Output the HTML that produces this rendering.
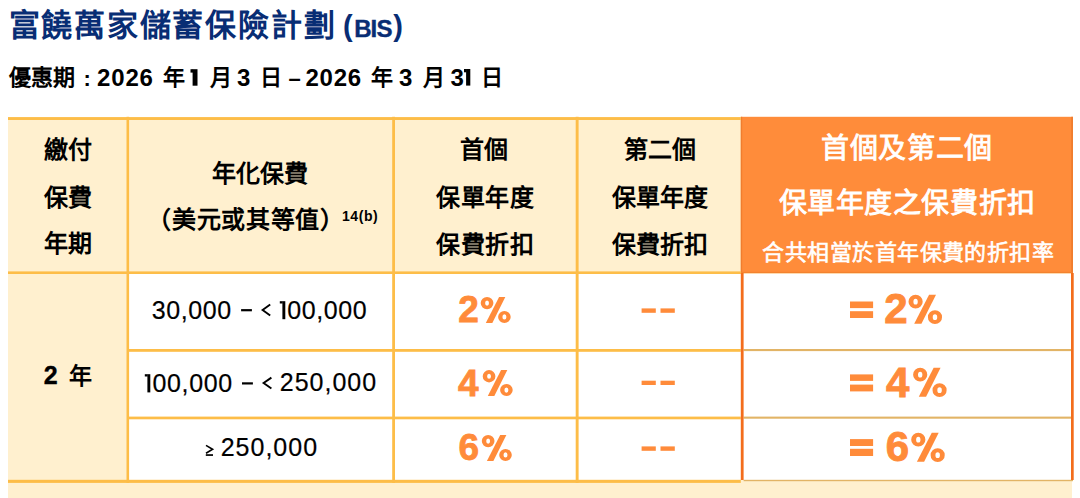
<!DOCTYPE html>
<html lang="zh-HK">
<head>
<meta charset="utf-8">
<style>
html,body{margin:0;padding:0;background:#fff;}
body{width:1080px;height:498px;position:relative;overflow:hidden;font-family:"Liberation Sans",sans-serif;}
.a{position:absolute;}
.tk{position:absolute;white-space:nowrap;line-height:1;}
.y{background:#fdbd48;}
</style>
</head>
<body>
<!-- table fills -->
<div class="a" style="left:8px;top:117px;width:1064px;height:381px;background:#fff0cf;"></div>
<div class="a" style="left:129px;top:274px;width:942px;height:206px;background:#fff;"></div>
<svg class="a" style="left:0;top:0;" width="1080" height="498" viewBox="0 0 1080 498">
<rect x="740.8" y="116.8" width="332.2" height="156.3" fill="#ff8c3a"/>
<rect x="740.8" y="116.8" width="1.4" height="156.3" fill="#f07d2e"/>
<rect x="1071.2" y="116.8" width="1.8" height="156.3" fill="#f07d2e"/>
<rect x="740.8" y="271.8" width="332.2" height="1.3" fill="#f3822f"/>
<g fill="#fdbd48">
<rect x="8" y="117.1" width="732.8" height="2.9"/>
<rect x="8" y="271.4" width="732.8" height="2.6"/>
<rect x="128" y="349" width="612.8" height="2.8"/>
<rect x="128" y="416.6" width="612.8" height="2.7"/>
<rect x="8" y="479.8" width="732.8" height="3.1"/>
<rect x="126.5" y="116.8" width="2.6" height="366.1"/>
<rect x="392.2" y="116.8" width="2.8" height="366.1"/>
<rect x="575.7" y="116.8" width="2.9" height="366.1"/>
</g>
<g fill="#e2b466">
<rect x="743.6" y="349" width="327.4" height="2.1"/>
<rect x="743.6" y="416.6" width="327.4" height="2.1"/>
<rect x="743.6" y="479.8" width="329.4" height="1.4"/>
</g>
<g fill="#f36d1c">
<rect x="740.8" y="273" width="2.8" height="207"/>
<rect x="1071" y="273" width="2.7" height="207"/>
</g>
</svg>
<svg class="a" style="left:0;top:0;" width="1080" height="498" viewBox="0 0 1080 498">
<g fill="none" stroke="#000000" stroke-width="1.9" stroke-linejoin="miter" stroke-linecap="butt">
<polyline points="270.2,304.6 262.6,310.1 270.2,315.6"/>
<polyline points="271.4,377.6 263.6,383.05 271.4,388.5"/>
<polyline stroke-width="1.6" points="206,445.4 212.6,449.3 206,453.2"/>
</g>
<rect x="205.8" y="454.2" width="7.2" height="1.7" fill="#000000"/>
<g fill="#ff8b3a">
<rect x="641.6" y="308.4" width="14.2" height="4.4"/><rect x="660.5" y="308.4" width="14.3" height="4.4"/>
<rect x="641.6" y="380.7" width="14.2" height="4.3"/><rect x="660.5" y="380.7" width="14.3" height="4.3"/>
<rect x="641.6" y="446.4" width="14.2" height="4.4"/><rect x="660.5" y="446.4" width="14.3" height="4.4"/>
<rect x="850" y="301.5" width="23.1" height="6.6"/><rect x="850" y="311.2" width="23.1" height="6.8"/>
<rect x="850" y="374.4" width="23.1" height="6.5"/><rect x="850" y="384.6" width="23.1" height="6.8"/>
<rect x="850" y="439.1" width="23.1" height="6.9"/><rect x="850" y="448.8" width="23.1" height="7.2"/>
</g>
<g fill="#000">
<rect x="241.1" y="309.1" width="10.8" height="2.2"/>
<rect x="242" y="382.3" width="10.9" height="2.2"/>
<rect x="192.6" y="69.2" width="4.9" height="16.5"/><rect x="190.5" y="69.2" width="2.6" height="3.4"/>
<rect x="466.1" y="69" width="4.2" height="16.6"/><rect x="464" y="69" width="2.6" height="3.3"/>
<rect x="282.4" y="301.2" width="2.9" height="18"/><rect x="279.8" y="301.2" width="2.9" height="2.3"/>
<rect x="147.4" y="374.2" width="2.9" height="18.2"/><rect x="144.8" y="374.2" width="2.9" height="2.3"/>
</g>
</svg>
<svg class="a" style="left:0;top:0;" width="1080" height="498" viewBox="0 0 1080 498"><g fill="#ff8b3a"><path fill-rule="evenodd" d="M480.70,303.05a6.35,6.15 0 1,0 12.70,0a6.35,6.15 0 1,0 -12.70,0ZM485.10,303.05a1.95,2.60 0 1,0 3.90,0a1.95,2.60 0 1,0 -3.90,0ZM498.10,316.90a6.30,6.00 0 1,0 12.60,0a6.30,6.00 0 1,0 -12.60,0ZM502.40,316.90a2.00,2.55 0 1,0 4.00,0a2.00,2.55 0 1,0 -4.00,0Z"/><polygon points="499.10,296.90 505.30,296.90 492.30,322.90 485.80,322.90"/><path fill-rule="evenodd" d="M482.70,376.25a6.35,6.15 0 1,0 12.70,0a6.35,6.15 0 1,0 -12.70,0ZM487.10,376.25a1.95,2.60 0 1,0 3.90,0a1.95,2.60 0 1,0 -3.90,0ZM500.10,390.10a6.30,6.00 0 1,0 12.60,0a6.30,6.00 0 1,0 -12.60,0ZM504.40,390.10a2.00,2.55 0 1,0 4.00,0a2.00,2.55 0 1,0 -4.00,0Z"/><polygon points="501.10,370.10 507.30,370.10 494.30,396.10 487.80,396.10"/><path fill-rule="evenodd" d="M481.80,441.05a6.35,6.15 0 1,0 12.70,0a6.35,6.15 0 1,0 -12.70,0ZM486.20,441.05a1.95,2.60 0 1,0 3.90,0a1.95,2.60 0 1,0 -3.90,0ZM499.20,454.90a6.30,6.00 0 1,0 12.60,0a6.30,6.00 0 1,0 -12.60,0ZM503.50,454.90a2.00,2.55 0 1,0 4.00,0a2.00,2.55 0 1,0 -4.00,0Z"/><polygon points="500.20,434.90 506.40,434.90 493.40,460.90 486.90,460.90"/><path fill-rule="evenodd" d="M908.50,301.67a7.09,6.87 0 1,0 14.19,0a7.09,6.87 0 1,0 -14.19,0ZM913.41,301.67a2.18,2.90 0 1,0 4.36,0a2.18,2.90 0 1,0 -4.36,0ZM927.94,317.14a7.04,6.70 0 1,0 14.07,0a7.04,6.70 0 1,0 -14.07,0ZM932.74,317.14a2.23,2.85 0 1,0 4.47,0a2.23,2.85 0 1,0 -4.47,0Z"/><polygon points="929.05,294.80 935.98,294.80 921.46,323.84 914.20,323.84"/><path fill-rule="evenodd" d="M913.10,374.67a7.09,6.87 0 1,0 14.19,0a7.09,6.87 0 1,0 -14.19,0ZM918.01,374.67a2.18,2.90 0 1,0 4.36,0a2.18,2.90 0 1,0 -4.36,0ZM932.54,390.14a7.04,6.70 0 1,0 14.07,0a7.04,6.70 0 1,0 -14.07,0ZM937.34,390.14a2.23,2.85 0 1,0 4.47,0a2.23,2.85 0 1,0 -4.47,0Z"/><polygon points="933.65,367.80 940.58,367.80 926.06,396.84 918.80,396.84"/><path fill-rule="evenodd" d="M911.20,439.67a7.09,6.87 0 1,0 14.19,0a7.09,6.87 0 1,0 -14.19,0ZM916.11,439.67a2.18,2.90 0 1,0 4.36,0a2.18,2.90 0 1,0 -4.36,0ZM930.64,455.14a7.04,6.70 0 1,0 14.07,0a7.04,6.70 0 1,0 -14.07,0ZM935.44,455.14a2.23,2.85 0 1,0 4.47,0a2.23,2.85 0 1,0 -4.47,0Z"/><polygon points="931.75,432.80 938.68,432.80 924.16,461.84 916.90,461.84"/></g></svg>
<div class="tk" style="left:8.5px;top:10.2px;font-size:31px;font-weight:bold;letter-spacing:1.8px;color:#082d74;">富饒萬家儲蓄保險計劃</div>
<div class="tk" style="left:343.1px;top:12.2px;font-size:29px;font-weight:bold;color:#082d74;">(</div>
<div class="tk" style="left:354.2px;top:16.9px;font-size:24px;font-weight:bold;letter-spacing:-0.9px;-webkit-text-stroke:0.4px #082d74;color:#082d74;">BIS</div>
<div class="tk" style="left:393.3px;top:12.2px;font-size:29px;font-weight:bold;color:#082d74;">)</div>
<div class="tk" style="left:8.9px;top:67.1px;font-size:22px;font-weight:bold;color:#000000;">優惠期</div>
<div class="tk" style="left:83.6px;top:68.0px;font-size:22px;font-weight:bold;color:#000000;">:</div>
<div class="tk" style="left:97.1px;top:65.7px;font-size:24px;font-weight:bold;letter-spacing:0.8px;color:#000000;">2026</div>
<div class="tk" style="left:162.9px;top:67.0px;font-size:22px;font-weight:bold;color:#000000;">年</div>
<div class="tk" style="left:209.6px;top:66.5px;font-size:22px;font-weight:bold;color:#000000;">月</div>
<div class="tk" style="left:236.9px;top:65.7px;font-size:24px;font-weight:bold;letter-spacing:0.8px;color:#000000;">3</div>
<div class="tk" style="left:260.1px;top:67.2px;font-size:22px;font-weight:bold;color:#000000;">日</div>
<div class="tk" style="left:288.6px;top:68.0px;font-size:22px;font-weight:bold;color:#000000;">–</div>
<div class="tk" style="left:305.4px;top:65.7px;font-size:24px;font-weight:bold;letter-spacing:0.8px;color:#000000;">2026</div>
<div class="tk" style="left:370.6px;top:67.0px;font-size:22px;font-weight:bold;color:#000000;">年</div>
<div class="tk" style="left:399.1px;top:65.7px;font-size:24px;font-weight:bold;letter-spacing:0.8px;color:#000000;">3</div>
<div class="tk" style="left:422.5px;top:66.5px;font-size:22px;font-weight:bold;color:#000000;">月</div>
<div class="tk" style="left:450.4px;top:65.7px;font-size:24px;font-weight:bold;letter-spacing:0.8px;color:#000000;">3</div>
<div class="tk" style="left:481.3px;top:67.2px;font-size:22px;font-weight:bold;color:#000000;">日</div>
<div class="tk" style="left:44.2px;top:138.0px;font-size:24px;font-weight:bold;color:#000000;">繳付</div>
<div class="tk" style="left:44.1px;top:185.7px;font-size:24px;font-weight:bold;color:#000000;">保費</div>
<div class="tk" style="left:44.1px;top:232.3px;font-size:24px;font-weight:bold;color:#000000;">年期</div>
<div class="tk" style="left:212.0px;top:162.3px;font-size:24px;font-weight:bold;color:#000000;">年化保費</div>
<div class="tk" style="left:147.3px;top:208.4px;font-size:24px;font-weight:bold;letter-spacing:0.7px;color:#000000;">（美元或其等值）</div>
<div class="tk" style="left:341.9px;top:209.4px;font-size:14px;font-weight:bold;letter-spacing:0.6px;color:#000000;">14(b)</div>
<div class="tk" style="left:460.1px;top:138.4px;font-size:24px;font-weight:bold;color:#000000;">首個</div>
<div class="tk" style="left:436.4px;top:185.7px;font-size:24px;font-weight:bold;letter-spacing:0.4px;color:#000000;">保單年度</div>
<div class="tk" style="left:436.4px;top:232.6px;font-size:24px;font-weight:bold;letter-spacing:0.5px;color:#000000;">保費折扣</div>
<div class="tk" style="left:624.1px;top:138.2px;font-size:24px;font-weight:bold;color:#000000;">第二個</div>
<div class="tk" style="left:611.7px;top:185.8px;font-size:24px;font-weight:bold;color:#000000;">保單年度</div>
<div class="tk" style="left:611.7px;top:232.6px;font-size:24px;font-weight:bold;color:#000000;">保費折扣</div>
<div class="tk" style="left:821.3px;top:135.1px;font-size:28px;-webkit-text-stroke:0.85px #fff;letter-spacing:0.6px;color:#ffffff;">首個及第二個</div>
<div class="tk" style="left:778.5px;top:190.1px;font-size:28px;-webkit-text-stroke:0.85px #fff;letter-spacing:0.6px;color:#ffffff;">保單年度之保費折扣</div>
<div class="tk" style="left:762.4px;top:241.7px;font-size:22px;-webkit-text-stroke:0.6px #fff;letter-spacing:0.45px;color:#ffffff;">合共相當於首年保費的折扣率</div>
<div class="tk" style="left:43.8px;top:363.2px;font-size:25px;font-weight:bold;-webkit-text-stroke:0.4px #000;color:#000000;">2</div>
<div class="tk" style="left:68.7px;top:364.9px;font-size:23px;font-weight:bold;color:#000000;">年</div>
<div class="tk" style="left:151.8px;top:297.8px;font-size:25px;letter-spacing:0.6px;-webkit-text-stroke:0.2px #000;color:#000000;">30,000</div>
<div class="tk" style="left:287.3px;top:297.8px;font-size:25px;letter-spacing:0.6px;-webkit-text-stroke:0.2px #000;color:#000000;">00,000</div>
<div class="tk" style="left:152.6px;top:370.9px;font-size:25px;letter-spacing:0.6px;-webkit-text-stroke:0.2px #000;color:#000000;">00,000</div>
<div class="tk" style="left:279.8px;top:369.7px;font-size:25px;letter-spacing:1.0px;-webkit-text-stroke:0.2px #000;color:#000000;">250,000</div>
<div class="tk" style="left:220.7px;top:434.8px;font-size:25px;letter-spacing:1.0px;-webkit-text-stroke:0.2px #000;color:#000000;">250,000</div>
<div class="tk" style="left:458.2px;top:290.9px;font-size:37px;font-weight:bold;-webkit-text-stroke:0.8px #ff8b3a;color:#ff8b3a;">2</div>
<div class="tk" style="left:458.0px;top:364.6px;font-size:37px;font-weight:bold;-webkit-text-stroke:0.8px #ff8b3a;color:#ff8b3a;">4</div>
<div class="tk" style="left:458.6px;top:429.0px;font-size:37px;font-weight:bold;-webkit-text-stroke:0.8px #ff8b3a;color:#ff8b3a;">6</div>
<div class="tk" style="left:884.2px;top:287.8px;font-size:42px;font-weight:bold;-webkit-text-stroke:0.9px #ff8b3a;color:#ff8b3a;">2</div>
<div class="tk" style="left:886.1px;top:361.6px;font-size:42px;font-weight:bold;-webkit-text-stroke:0.9px #ff8b3a;color:#ff8b3a;">4</div>
<div class="tk" style="left:885.7px;top:426.1px;font-size:42px;font-weight:bold;-webkit-text-stroke:0.9px #ff8b3a;color:#ff8b3a;">6</div>
</body>
</html>
